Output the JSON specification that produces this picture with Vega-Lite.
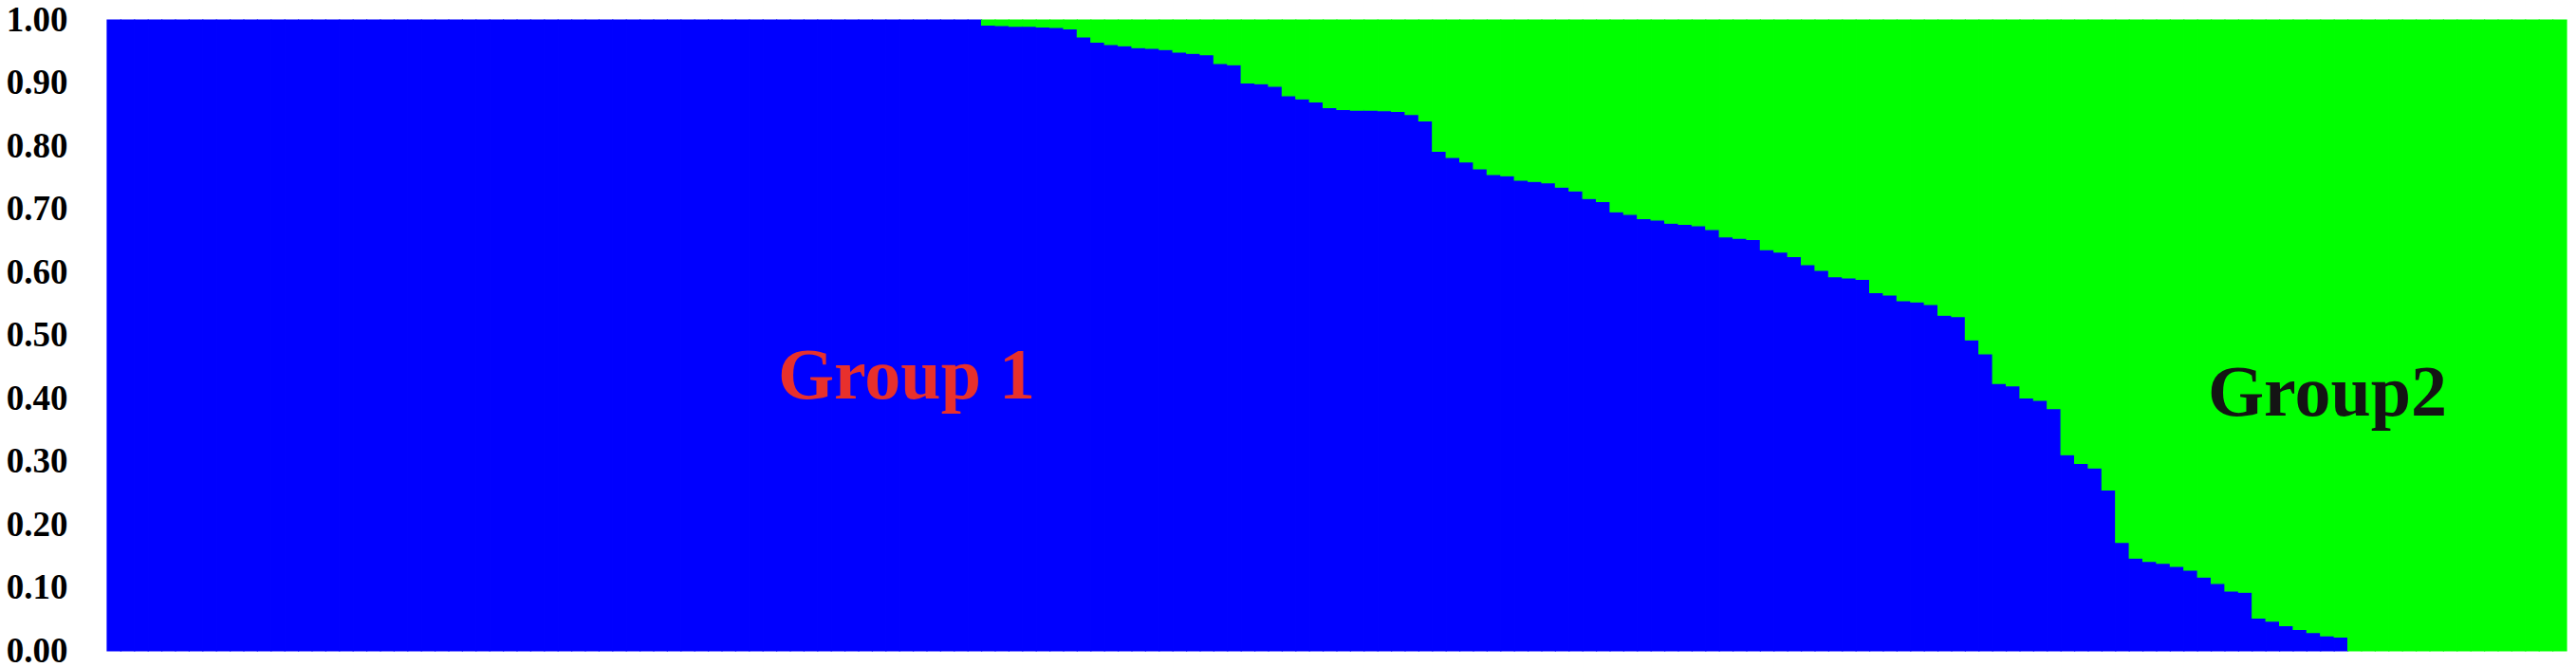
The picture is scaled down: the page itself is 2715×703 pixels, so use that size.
{
  "$schema": "https://vega.github.io/schema/vega-lite/v6.json",
  "description": "Two-cluster membership bar plot (Group 1 / Group2).",
  "width": 2592,
  "height": 665,
  "autosize": {"type": "none"},
  "padding": {"left": 113, "top": 21, "right": 10, "bottom": 17},
  "background": "white",
  "config": {
    "view": {"stroke": null},
    "axis": {"grid": false, "domain": false, "ticks": false, "tickSize": 0}
  },
  "layer": [
    {
      "data": {
        "values": [
          {"ind":1,"q1":1,"q2":0},{"ind":2,"q1":1,"q2":0},{"ind":3,"q1":1,"q2":0},{"ind":4,"q1":1,"q2":0},
          {"ind":5,"q1":1,"q2":0},{"ind":6,"q1":1,"q2":0},{"ind":7,"q1":1,"q2":0},{"ind":8,"q1":1,"q2":0},
          {"ind":9,"q1":1,"q2":0},{"ind":10,"q1":1,"q2":0},{"ind":11,"q1":1,"q2":0},{"ind":12,"q1":1,"q2":0},
          {"ind":13,"q1":1,"q2":0},{"ind":14,"q1":1,"q2":0},{"ind":15,"q1":1,"q2":0},{"ind":16,"q1":1,"q2":0},
          {"ind":17,"q1":1,"q2":0},{"ind":18,"q1":1,"q2":0},{"ind":19,"q1":1,"q2":0},{"ind":20,"q1":1,"q2":0},
          {"ind":21,"q1":1,"q2":0},{"ind":22,"q1":1,"q2":0},{"ind":23,"q1":1,"q2":0},{"ind":24,"q1":1,"q2":0},
          {"ind":25,"q1":1,"q2":0},{"ind":26,"q1":1,"q2":0},{"ind":27,"q1":1,"q2":0},{"ind":28,"q1":1,"q2":0},
          {"ind":29,"q1":1,"q2":0},{"ind":30,"q1":1,"q2":0},{"ind":31,"q1":1,"q2":0},{"ind":32,"q1":1,"q2":0},
          {"ind":33,"q1":1,"q2":0},{"ind":34,"q1":1,"q2":0},{"ind":35,"q1":1,"q2":0},{"ind":36,"q1":1,"q2":0},
          {"ind":37,"q1":1,"q2":0},{"ind":38,"q1":1,"q2":0},{"ind":39,"q1":1,"q2":0},{"ind":40,"q1":1,"q2":0},
          {"ind":41,"q1":1,"q2":0},{"ind":42,"q1":1,"q2":0},{"ind":43,"q1":1,"q2":0},{"ind":44,"q1":1,"q2":0},
          {"ind":45,"q1":1,"q2":0},{"ind":46,"q1":1,"q2":0},{"ind":47,"q1":1,"q2":0},{"ind":48,"q1":1,"q2":0},
          {"ind":49,"q1":1,"q2":0},{"ind":50,"q1":1,"q2":0},{"ind":51,"q1":1,"q2":0},{"ind":52,"q1":1,"q2":0},
          {"ind":53,"q1":1,"q2":0},{"ind":54,"q1":1,"q2":0},{"ind":55,"q1":1,"q2":0},{"ind":56,"q1":1,"q2":0},
          {"ind":57,"q1":1,"q2":0},{"ind":58,"q1":1,"q2":0},{"ind":59,"q1":1,"q2":0},{"ind":60,"q1":1,"q2":0},
          {"ind":61,"q1":1,"q2":0},{"ind":62,"q1":1,"q2":0},{"ind":63,"q1":1,"q2":0},{"ind":64,"q1":1,"q2":0},
          {"ind":65,"q1":0.992,"q2":0.008},{"ind":66,"q1":0.991,"q2":0.009},{"ind":67,"q1":0.990,"q2":0.010},
          {"ind":68,"q1":0.990,"q2":0.010},{"ind":69,"q1":0.989,"q2":0.011},{"ind":70,"q1":0.988,"q2":0.012},
          {"ind":71,"q1":0.986,"q2":0.014},{"ind":72,"q1":0.973,"q2":0.027},{"ind":73,"q1":0.965,"q2":0.035},
          {"ind":74,"q1":0.961,"q2":0.039},{"ind":75,"q1":0.959,"q2":0.041},{"ind":76,"q1":0.956,"q2":0.044},
          {"ind":77,"q1":0.955,"q2":0.045},{"ind":78,"q1":0.953,"q2":0.047},{"ind":79,"q1":0.949,"q2":0.051},
          {"ind":80,"q1":0.947,"q2":0.053},{"ind":81,"q1":0.945,"q2":0.055},{"ind":82,"q1":0.931,"q2":0.069},
          {"ind":83,"q1":0.929,"q2":0.071},{"ind":84,"q1":0.900,"q2":0.100},{"ind":85,"q1":0.899,"q2":0.101},
          {"ind":86,"q1":0.895,"q2":0.105},{"ind":87,"q1":0.880,"q2":0.120},{"ind":88,"q1":0.875,"q2":0.125},
          {"ind":89,"q1":0.870,"q2":0.130},{"ind":90,"q1":0.861,"q2":0.139},{"ind":91,"q1":0.858,"q2":0.142},
          {"ind":92,"q1":0.857,"q2":0.143},{"ind":93,"q1":0.857,"q2":0.143},{"ind":94,"q1":0.856,"q2":0.144},
          {"ind":95,"q1":0.855,"q2":0.145},{"ind":96,"q1":0.850,"q2":0.150},{"ind":97,"q1":0.840,"q2":0.160},
          {"ind":98,"q1":0.792,"q2":0.208},{"ind":99,"q1":0.782,"q2":0.218},{"ind":100,"q1":0.775,"q2":0.225},
          {"ind":101,"q1":0.764,"q2":0.236},{"ind":102,"q1":0.755,"q2":0.245},{"ind":103,"q1":0.753,"q2":0.247},
          {"ind":104,"q1":0.746,"q2":0.254},{"ind":105,"q1":0.744,"q2":0.256},{"ind":106,"q1":0.742,"q2":0.258},
          {"ind":107,"q1":0.735,"q2":0.265},{"ind":108,"q1":0.729,"q2":0.271},{"ind":109,"q1":0.717,"q2":0.283},
          {"ind":110,"q1":0.712,"q2":0.288},{"ind":111,"q1":0.696,"q2":0.304},{"ind":112,"q1":0.692,"q2":0.308},
          {"ind":113,"q1":0.685,"q2":0.315},{"ind":114,"q1":0.683,"q2":0.317},{"ind":115,"q1":0.678,"q2":0.322},
          {"ind":116,"q1":0.676,"q2":0.324},{"ind":117,"q1":0.674,"q2":0.326},{"ind":118,"q1":0.668,"q2":0.332},
          {"ind":119,"q1":0.656,"q2":0.344},{"ind":120,"q1":0.654,"q2":0.346},{"ind":121,"q1":0.652,"q2":0.348},
          {"ind":122,"q1":0.636,"q2":0.364},{"ind":123,"q1":0.632,"q2":0.368},{"ind":124,"q1":0.625,"q2":0.375},
          {"ind":125,"q1":0.612,"q2":0.388},{"ind":126,"q1":0.603,"q2":0.397},{"ind":127,"q1":0.593,"q2":0.407},
          {"ind":128,"q1":0.591,"q2":0.409},{"ind":129,"q1":0.589,"q2":0.411},{"ind":130,"q1":0.568,"q2":0.432},
          {"ind":131,"q1":0.564,"q2":0.436},{"ind":132,"q1":0.555,"q2":0.445},{"ind":133,"q1":0.553,"q2":0.447},
          {"ind":134,"q1":0.549,"q2":0.451},{"ind":135,"q1":0.532,"q2":0.468},{"ind":136,"q1":0.530,"q2":0.470},
          {"ind":137,"q1":0.493,"q2":0.507},{"ind":138,"q1":0.471,"q2":0.529},{"ind":139,"q1":0.424,"q2":0.576},
          {"ind":140,"q1":0.420,"q2":0.580},{"ind":141,"q1":0.401,"q2":0.599},{"ind":142,"q1":0.397,"q2":0.603},
          {"ind":143,"q1":0.384,"q2":0.616},{"ind":144,"q1":0.311,"q2":0.689},{"ind":145,"q1":0.297,"q2":0.703},
          {"ind":146,"q1":0.290,"q2":0.710},{"ind":147,"q1":0.255,"q2":0.745},{"ind":148,"q1":0.172,"q2":0.828},
          {"ind":149,"q1":0.147,"q2":0.853},{"ind":150,"q1":0.142,"q2":0.858},{"ind":151,"q1":0.139,"q2":0.861},
          {"ind":152,"q1":0.134,"q2":0.866},{"ind":153,"q1":0.128,"q2":0.872},{"ind":154,"q1":0.117,"q2":0.883},
          {"ind":155,"q1":0.107,"q2":0.893},{"ind":156,"q1":0.095,"q2":0.905},{"ind":157,"q1":0.093,"q2":0.907},
          {"ind":158,"q1":0.052,"q2":0.948},{"ind":159,"q1":0.047,"q2":0.953},{"ind":160,"q1":0.040,"q2":0.960},
          {"ind":161,"q1":0.034,"q2":0.966},{"ind":162,"q1":0.029,"q2":0.971},{"ind":163,"q1":0.024,"q2":0.976},
          {"ind":164,"q1":0.022,"q2":0.978},
          {"ind":165,"q1":0,"q2":1},{"ind":166,"q1":0,"q2":1},{"ind":167,"q1":0,"q2":1},{"ind":168,"q1":0,"q2":1},
          {"ind":169,"q1":0,"q2":1},{"ind":170,"q1":0,"q2":1},{"ind":171,"q1":0,"q2":1},{"ind":172,"q1":0,"q2":1},
          {"ind":173,"q1":0,"q2":1},{"ind":174,"q1":0,"q2":1},{"ind":175,"q1":0,"q2":1},{"ind":176,"q1":0,"q2":1},
          {"ind":177,"q1":0,"q2":1},{"ind":178,"q1":0,"q2":1},{"ind":179,"q1":0,"q2":1},{"ind":180,"q1":0,"q2":1}
        ]
      },
      "transform": [
        {"fold": ["q1", "q2"], "as": ["cluster", "q"]},
        {"filter": "datum.q > 0"}
      ],
      "mark": {"type": "bar", "strokeWidth": 1.2},
      "encoding": {
        "x": {
          "field": "ind",
          "type": "ordinal",
          "sort": "ascending",
          "axis": null,
          "scale": {"paddingInner": 0, "paddingOuter": 0}
        },
        "y": {
          "field": "q",
          "type": "quantitative",
          "stack": "zero",
          "scale": {"domain": [0, 1], "nice": false},
          "axis": {
            "title": null,
            "values": [0, 0.1, 0.2, 0.3, 0.4, 0.5, 0.6, 0.7, 0.8, 0.9, 1],
            "format": ".2f",
            "labelFont": "Liberation Serif",
            "labelFontWeight": "bold",
            "labelFontSize": 37,
            "labelColor": "#000000",
            "labelPadding": 42,
            "labelFlush": false,
            "labelOverlap": false
          }
        },
        "color": {
          "field": "cluster",
          "type": "nominal",
          "scale": {"domain": ["q1", "q2"], "range": ["#0000ff", "#00ff00"]},
          "legend": null
        },
        "stroke": {
          "field": "cluster",
          "type": "nominal",
          "scale": {"domain": ["q1", "q2"], "range": ["#0000ff", "#00ff00"]},
          "legend": null
        },
        "order": {"field": "cluster", "sort": "ascending"}
      }
    },
    {
      "data": {"values": [{"ind": 59, "q": 0.40, "label": "Group 1"}]},
      "mark": {
        "type": "text",
        "font": "Liberation Serif",
        "fontWeight": "bold",
        "fontSize": 76,
        "align": "center",
        "baseline": "alphabetic",
        "color": "#e8302c"
      },
      "encoding": {
        "x": {"field": "ind", "type": "ordinal"},
        "y": {"field": "q", "type": "quantitative"},
        "text": {"field": "label"}
      }
    },
    {
      "data": {"values": [{"ind": 163, "q": 0.373, "label": "Group2"}]},
      "mark": {
        "type": "text",
        "font": "Liberation Serif",
        "fontWeight": "bold",
        "fontSize": 76,
        "align": "center",
        "baseline": "alphabetic",
        "color": "#141414"
      },
      "encoding": {
        "x": {"field": "ind", "type": "ordinal"},
        "y": {"field": "q", "type": "quantitative"},
        "text": {"field": "label"}
      }
    }
  ]
}
